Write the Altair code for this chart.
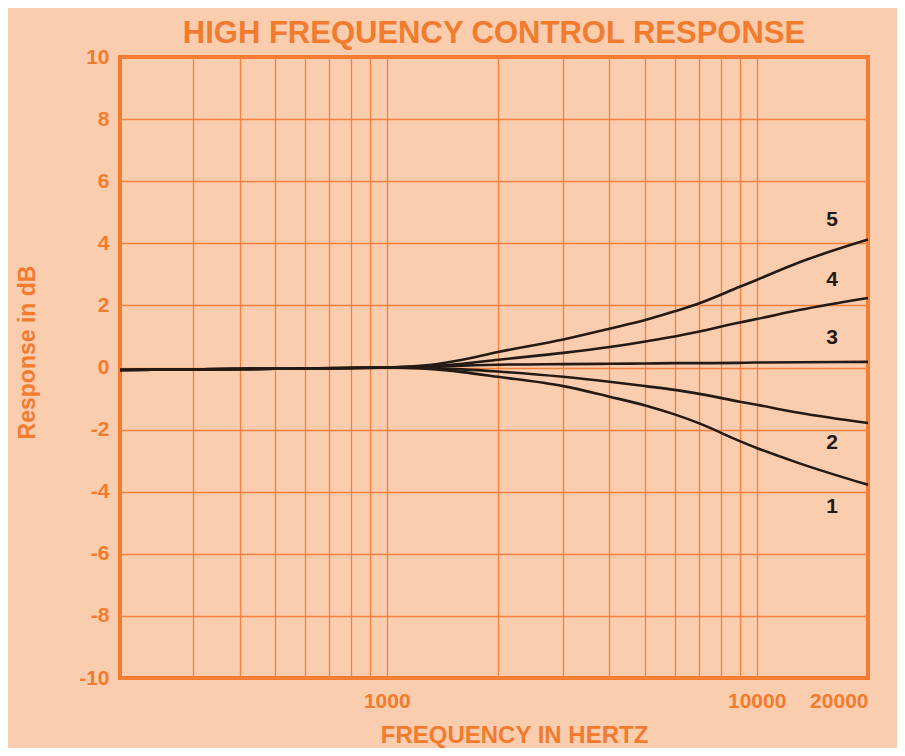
import altair as alt
import pandas as pd

# ---- data ----
freq = [190, 500, 1000, 1300, 1600, 2000, 3000, 4000, 5000, 6000, 7000, 9000, 10000, 13000, 20000]
curve1 = [-0.08, -0.04, 0.0, -0.05, -0.15, -0.3, -0.6, -0.94, -1.22, -1.51, -1.8, -2.37, -2.59, -3.08, -3.78]
curve2 = [-0.08, -0.04, 0.0, -0.02, -0.06, -0.13, -0.3, -0.46, -0.6, -0.72, -0.85, -1.1, -1.2, -1.46, -1.79]
curve3 = [-0.08, -0.04, 0.0, 0.03, 0.06, 0.09, 0.11, 0.12, 0.13, 0.14, 0.14, 0.15, 0.16, 0.17, 0.18]
curve4 = [-0.08, -0.04, 0.0, 0.04, 0.12, 0.25, 0.47, 0.66, 0.84, 1.0, 1.16, 1.45, 1.56, 1.85, 2.24]
curve5 = [-0.08, -0.04, 0.0, 0.08, 0.25, 0.5, 0.9, 1.25, 1.53, 1.81, 2.07, 2.6, 2.82, 3.38, 4.12]
curve_names = ["1", "2", "3", "4", "5"]

label_freq = [16000, 16000, 16000, 16000, 16000]
label_db = [-4.49, -2.43, 0.95, 2.82, 4.75]

x_grid = [300, 400, 500, 600, 700, 800, 900, 1000, 2000, 3000, 4000, 5000,
          6000, 7000, 8000, 9000, 10000, 20000]
x_labels = [1000, 10000, 20000]
y_grid = list(range(-10, 11))

rows = []
for name, vals in zip(curve_names, [curve1, curve2, curve3, curve4, curve5]):
    for f, v in zip(freq, vals):
        rows.append({"curve": name, "freq": f, "db": v})
df = pd.DataFrame(rows)
lab = pd.DataFrame({"curve": curve_names, "freq": label_freq, "db": label_db})

ORANGE = "#F27B2E"
GRID = "#F5813C"
BG = "#FACDAF"
FONT = "Liberation Sans"

label_expr = "indexof([1000, 10000, 20000], datum.value) >= 0 ? format(datum.value, 'd') : ''"

xscale = alt.Scale(type="log", domain=[190, 20000], nice=False)
yscale = alt.Scale(domain=[-10, 10], nice=False)

lines = alt.Chart(df).mark_line(
    color="#231a16", strokeWidth=2.6, interpolate="monotone"
).encode(
    x=alt.X("freq:Q", scale=xscale,
            axis=alt.Axis(values=x_grid, labelExpr=label_expr,
                          title="FREQUENCY IN HERTZ",
                          titleX=394, titleY=64, titleAnchor="middle",
                          titleBaseline="alphabetic",
                          titleFontSize=24, titleFont=FONT, titleFontWeight="bold",
                          titleColor=ORANGE,
                          labelFontSize=21, labelFont=FONT, labelFontWeight="bold",
                          labelColor=ORANGE, labelPadding=12, labelOverlap=False,
                          ticks=False, domain=False,
                          grid=True, gridColor=GRID, gridWidth=1.3, gridOpacity=1)),
    y=alt.Y("db:Q", scale=yscale,
            axis=alt.Axis(values=y_grid,
                          labelExpr="datum.value % 2 == 0 ? '' + datum.value : ''",
                          title="Response in dB",
                          titleX=-93, titleY=295, titleAngle=-90,
                          titleAnchor="middle", titleBaseline="middle",
                          titleFontSize=23, titleFont=FONT, titleFontWeight="bold",
                          titleColor=ORANGE,
                          labelFontSize=21, labelFont=FONT, labelFontWeight="bold",
                          labelColor=ORANGE, labelPadding=11, labelOverlap=False,
                          ticks=False, domain=False,
                          grid=True, gridColor=GRID, gridWidth=1.3, gridOpacity=1)),
    detail="curve:N",
)

labels = alt.Chart(lab).mark_text(
    font=FONT, fontSize=21, fontWeight="bold", color="#231a16",
    align="center", baseline="middle"
).encode(
    x=alt.X("freq:Q", scale=xscale),
    y=alt.Y("db:Q", scale=yscale),
    text="curve:N",
)

chart = alt.layer(lines, labels).properties(
    width=748, height=621,
    title=alt.TitleParams("HIGH FREQUENCY CONTROL RESPONSE", fontSize=31,
                          font=FONT, fontWeight="bold", color=ORANGE,
                          anchor="middle", offset=-4),
    autosize=alt.AutoSizeParams(type="none"),
    padding={"left": 112, "top": 49, "right": 29, "bottom": 70},
    background=BG,
).configure_view(
    stroke=ORANGE, strokeWidth=4, fill=BG
)

chart.save("out.html", embed_options={"renderer": "svg", "actions": False})
